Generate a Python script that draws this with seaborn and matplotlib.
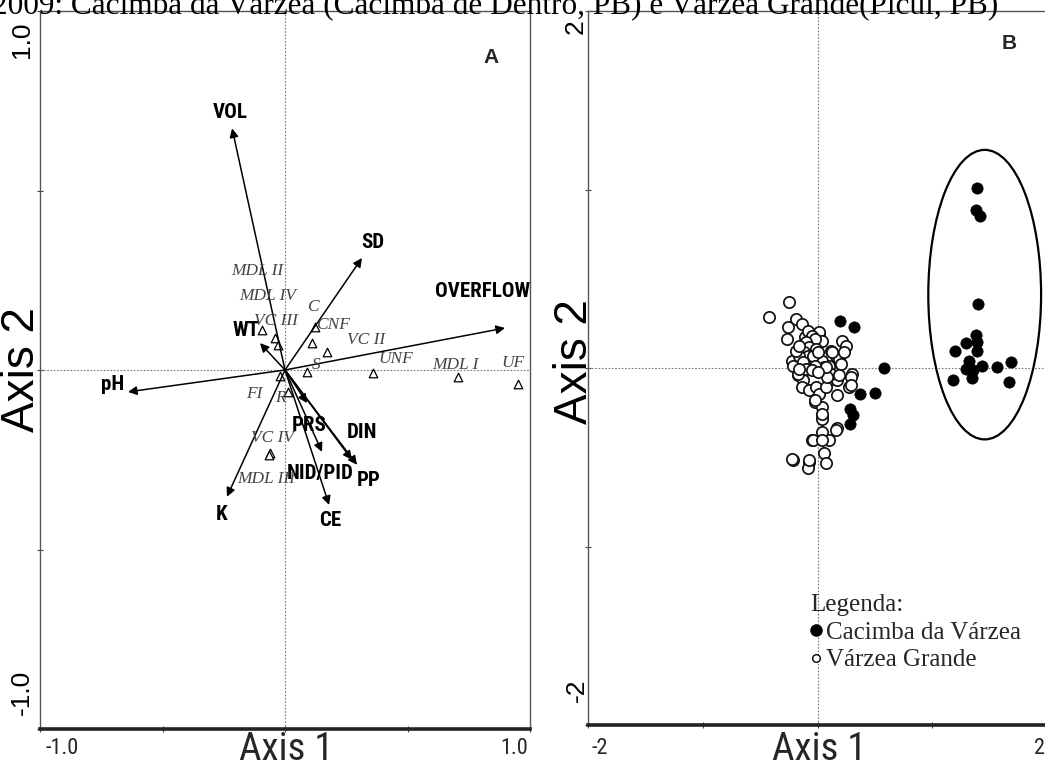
import os
import numpy as np
import pandas as pd
import matplotlib
matplotlib.use("Agg")
import matplotlib.pyplot as plt
import seaborn as sns
from matplotlib.patches import Ellipse
from matplotlib.lines import Line2D
from matplotlib import font_manager as fm

# ---------------- data ----------------
env_vars = ['VOL', 'SD', 'OVERFLOW', 'pH', 'WT', 'K', 'CE', 'PP', 'DIN', 'NID/PID', 'PRS']
env_x = [-0.216, 0.314, 0.898, -0.641, -0.102, -0.237, 0.180, 0.294, 0.273, 0.151, 0.090]
env_y = [0.673, 0.312, 0.117, -0.061, 0.075, -0.353, -0.376, -0.264, -0.250, -0.228, -0.092]

sites = ['MDL II', 'MDL IV', 'VC III', 'C', 'CNF', 'VC II', 'S', 'UNF', 'MDL I', 'UF',
         'FI', 'R', 'VC IV', 'MDL III']
site_x = [-0.041, -0.029, -0.094, 0.122, 0.110, 0.171, 0.090, 0.359, 0.706, 0.951,
          -0.020, 0.012, -0.061, -0.065]
site_y = [0.089, 0.070, 0.111, 0.120, 0.075, 0.050, -0.006, -0.008, -0.019, -0.039,
          -0.017, -0.061, -0.231, -0.236]

cacimba_x = [1.389, 1.380, 1.415, 1.400, 1.380, 1.298, 1.389, 1.394, 1.197, 1.322,
             1.432, 1.298, 1.357, 1.350, 1.565, 1.690, 1.177, 1.670,
             0.197, 0.322, 0.583, 0.374, 0.504, 0.284, 0.307, 0.284]
cacimba_y = [1.006, 0.885, 0.853, 0.359, 0.186, 0.141, 0.144, 0.094, 0.094, 0.042,
             0.012, -0.007, -0.014, -0.055, 0.004, 0.032, -0.066, -0.079,
             0.266, 0.232, -0.001, -0.148, -0.141, -0.228, -0.266, -0.316]

varzea_x = [-0.252, -0.426, -0.191, -0.139, -0.261, -0.270, 0.017, 0.000, -0.113, -0.096,
            -0.052, -0.026, -0.070, 0.035, -0.226, -0.217, -0.174, -0.130, -0.139, -0.070,
            -0.009, 0.017, -0.026, 0.035, 0.035, 0.043, 0.104, 0.174, 0.061, 0.078,
            -0.052, -0.078, -0.087, -0.217, 0.122, 0.165, 0.191, 0.217, 0.252, 0.235,
            0.104, 0.104, 0.174, 0.174, 0.078, 0.278, 0.304, 0.296, 0.122, 0.061,
            -0.174, -0.026, 0.035, -0.043, 0.035, -0.070, -0.226, 0.087, 0.296, 0.165,
            0.035, 0.017, 0.035, 0.130, 0.209, 0.191, 0.078,
            -0.087, -0.052, -0.026, -0.104, -0.070, -0.009, -0.122, -0.087, -0.043, 0.000,
            -0.157, -0.130, -0.026, -0.104, -0.052, 0.000, -0.157, -0.191, -0.165]
varzea_y = [0.372, 0.283, 0.277, 0.249, 0.227, 0.165, 0.193, 0.143, 0.171, 0.126,
            0.098, 0.059, 0.042, 0.042, 0.042, 0.014, -0.042, -0.070, -0.109, -0.126,
            -0.109, -0.143, -0.193, -0.221, -0.266, -0.361, -0.406, -0.338, -0.478, -0.534,
            -0.406, -0.529, -0.562, -0.517, 0.098, 0.070, 0.053, 0.154, 0.126, 0.087,
            0.014, -0.070, -0.070, -0.154, -0.109, -0.109, -0.031, -0.053, -0.031, 0.003,
            -0.031, -0.182, -0.283, -0.406, -0.406, -0.517, -0.512, -0.053, -0.098, -0.350,
            -0.255, 0.199, 0.154, 0.087, 0.025, -0.042, 0.003,
            0.210, 0.182, 0.165, 0.143, 0.120, 0.109, 0.087, 0.070, 0.070, 0.087,
            0.070, 0.031, 0.014, -0.003, -0.014, -0.025, -0.003, 0.098, 0.126]

legend_labels = ['Cacimba da Várzea', 'Várzea Grande']
title_text = '2009: Cacimba da Várzea (Cacimba de Dentro, PB) e Várzea Grande(Picuí, PB)'

# ---------------- layout / style ----------------
env_offsets = [(-2, 16), (11, 15), (-22, 36), (-15, 7), (-14, 13), (-5, -18), (1, -16),
               (12, -16), (10, 27), (-2, -22), (2, -22)]
site_offsets = [(-18, 67), (-10, 49), (14, 9), (-2, 20), (21, 18), (39, 12), (9, 7),
                (23, 14), (-3, 12), (-5, 21), (-26, -18), (-8, -6), (2, 15), (-3, -24)]

sns.set_theme(style="white")

SANS = 'Liberation Sans'
SERIF = 'Liberation Serif'
plt.rcParams['font.family'] = [SANS, 'DejaVu Sans']


def find_condensed(bold):
    """Look for an installed narrow / condensed sans font file."""
    prefs = ['liberationsansnarrow', 'arialn', 'robotocondensed', 'opensanscondensed',
             'dejavusanscondensed']
    found = {}
    for f in fm.fontManager.ttflist:
        fn = os.path.basename(f.fname).lower().replace('-', '').replace('_', '')
        if 'italic' in fn or 'oblique' in fn or 'mono' in fn:
            continue
        is_bold = 'bold' in fn
        if is_bold != bold:
            continue
        for i, p in enumerate(prefs):
            if fn.startswith(p):
                if 'light' in fn or 'medium' in fn or 'semi' in fn or 'extra' in fn:
                    continue
                found.setdefault(i, f.fname)
    if found:
        return found[min(found)]
    return None


cond_reg = find_condensed(False)
cond_bold = find_condensed(True)


def cfont(size, bold=False):
    path = cond_bold if bold else cond_reg
    if path:
        return fm.FontProperties(fname=path, size=size)
    return fm.FontProperties(family=SANS, size=size * 0.9,
                             weight='bold' if bold else 'normal')


W, H = 1045, 769
fig = plt.figure(figsize=(W / 100, H / 100), dpi=100)


def fx(px):
    return px / W


def fy(py):
    return 1 - py / H


axA = fig.add_axes([fx(40), fy(729), fx(530) - fx(40), fy(11) - fy(729)])
axB = fig.add_axes([fx(588), fy(725), fx(1047) - fx(588), fy(11) - fy(725)])

for ax in (axA, axB):
    ax.set_facecolor('white')
    for s in ('left', 'top', 'right'):
        ax.spines[s].set_color('#555555')
        ax.spines[s].set_linewidth(1.0)
    ax.spines['bottom'].set_color('#222222')
    ax.spines['bottom'].set_linewidth(2.6)
    ax.axhline(0, color='#777777', lw=0.8, ls=(0, (1.5, 1.5)), zorder=1)
    ax.axvline(0, color='#777777', lw=0.8, ls=(0, (1.5, 1.5)), zorder=1)
    ax.tick_params(axis='both', which='both', length=4, width=0.8, direction='inout',
                   labelbottom=False, labelleft=False, bottom=True, left=True, color='#444444')

# ---- Panel A ----
axA.set_xlim(-1, 1)
axA.set_ylim(-1, 1)
axA.set_xticks([-1, -0.5, 0, 0.5, 1])
axA.set_yticks([-1, -0.5, 0, 0.5, 1])

for name, x, y, off in zip(env_vars, env_x, env_y, env_offsets):
    axA.annotate('', xy=(x, y), xytext=(0, 0),
                 arrowprops=dict(arrowstyle='-|>', color='black', lw=1.1,
                                 mutation_scale=13, shrinkA=0, shrinkB=0), zorder=4)
    axA.annotate(name, xy=(x, y), xytext=off, textcoords='offset pixels',
                 ha='center', va='center', fontproperties=cfont(15, bold=True),
                 color='black', zorder=5)

site_df = pd.DataFrame({'x': site_x, 'y': site_y, 'site': sites})
sns.scatterplot(data=site_df, x='x', y='y', marker='^', s=38, facecolor='white',
                edgecolor='black', linewidth=0.9, ax=axA, zorder=3, legend=False)
for name, x, y, off in zip(sites, site_x, site_y, site_offsets):
    axA.annotate(name, xy=(x, y), xytext=off, textcoords='offset pixels',
                 ha='center', va='center', fontsize=12.5, fontstyle='italic',
                 family=[SERIF, 'DejaVu Serif'], color='#444444', zorder=5)

axA.text(0.92, 0.935, 'A', transform=axA.transAxes, ha='center', va='center',
         fontsize=15, fontweight='bold')
axA.set_xlabel('')
axA.set_ylabel('')

# ---- Panel B ----
axB.set_xlim(-2, 2)
axB.set_ylim(-2, 2)
axB.set_xticks([-2, -1, 0, 1, 2])
axB.set_yticks([-2, -1, 0, 1, 2])

vg_df = pd.DataFrame({'x': varzea_x, 'y': varzea_y})
cv_df = pd.DataFrame({'x': cacimba_x, 'y': cacimba_y})
sns.scatterplot(data=vg_df, x='x', y='y', marker='o', s=66, facecolor='white',
                edgecolor='#111111', linewidth=1.25, ax=axB, zorder=3, legend=False)
sns.scatterplot(data=cv_df, x='x', y='y', marker='o', s=66, color='black',
                edgecolor='black', linewidth=0.5, ax=axB, zorder=4, legend=False)

axB.add_patch(Ellipse((1.457, 0.411), 0.983, 1.622, fill=False, edgecolor='black',
                      lw=1.6, zorder=5))
axB.text(0.917, 0.955, 'B', transform=axB.transAxes, ha='center', va='center',
         fontsize=15, fontweight='bold')
axB.set_xlabel('')
axB.set_ylabel('')

handles = [Line2D([], [], ls='none', marker='o', markersize=8, markerfacecolor='black',
                  markeredgecolor='black'),
           Line2D([], [], ls='none', marker='o', markersize=5.5, markerfacecolor='white',
                  markeredgecolor='black', markeredgewidth=1.0)]
leg = axB.legend(handles, legend_labels, title='Legenda:', loc='upper left',
                 bbox_to_anchor=((810 - 588) / 459, 0.183), frameon=False,
                 prop={'family': SERIF, 'size': 18},
                 title_fontproperties={'family': SERIF, 'size': 18},
                 handlelength=0.5, handletextpad=0.15, labelspacing=0.2, borderpad=0,
                 borderaxespad=0)
leg._legend_box.align = 'left'

# ---- axis labels and tick labels (CANOCO-like placement) ----
fig.text(fx(45), fy(748), '-1.0', ha='left', va='center', fontproperties=cfont(16))
fig.text(fx(528), fy(748), '1.0', ha='right', va='center', fontproperties=cfont(16))
fig.text(fx(591), fy(748), '-2', ha='left', va='center', fontproperties=cfont(16))
fig.text(fx(1045), fy(748), '2', ha='right', va='center', fontproperties=cfont(16))

fig.text(fx(286), fy(750), 'Axis 1', ha='center', va='center', fontproperties=cfont(28))
fig.text(fx(819), fy(750), 'Axis 1', ha='center', va='center', fontproperties=cfont(28))

ylab = dict(family=[SANS, 'DejaVu Sans'], fontsize=33, color='black', rotation=90)
fig.text(fx(22), fy(370), 'Axis 2', ha='center', va='center', **ylab)
fig.text(fx(575), fy(362), 'Axis 2', ha='center', va='center', **ylab)

ytk = dict(family=[SANS, 'DejaVu Sans'], fontsize=19, color='black', rotation=90)
fig.text(fx(22), fy(40), '1.0', ha='center', va='center', **ytk)
fig.text(fx(22), fy(692), '-1.0', ha='center', va='center', **ytk)
fig.text(fx(576), fy(27), '2', ha='center', va='center', **ytk)
fig.text(fx(577), fy(690), '-2', ha='center', va='center', **ytk)

fig.text(fx(-8), fy(14), title_text, ha='left', va='baseline',
         family=[SERIF, 'DejaVu Serif'], fontsize=22.5, color='black')

fig.savefig('out.png', dpi=100, facecolor='white')
